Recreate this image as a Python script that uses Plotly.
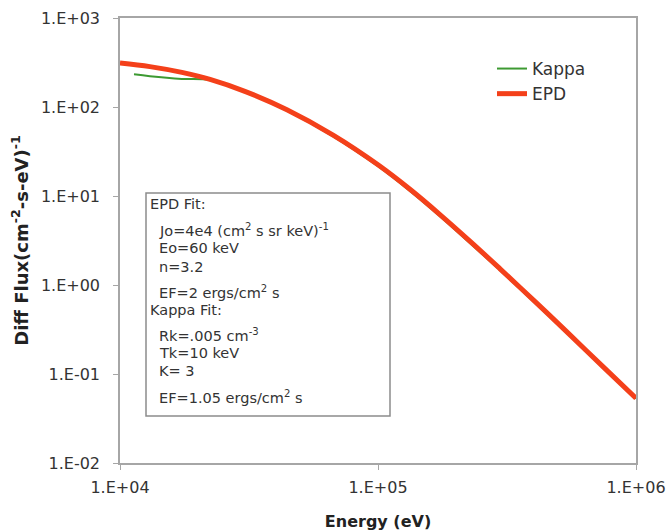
import plotly.graph_objects as go

# ---- data ----
epd_energy = [1.0e4, 1.306e4, 1.738e4, 2.234e4, 3.048e4, 4.436e4, 6.699e4, 1.0e5,
              1.330e5, 1.738e5, 2.333e5, 2.972e5, 4.064e5, 5.358e5, 7.516e5, 1.0e6]
epd_flux = [311.9, 284.4, 244.9, 204.2, 150.0, 93.1, 48.3, 22.4,
            11.9, 6.19, 2.90, 1.52, 0.650, 0.303, 0.118, 0.0533]

kappa_energy = [1.133e4, 1.306e4, 1.738e4, 2.234e4, 3.048e4, 4.436e4, 6.699e4, 1.0e5,
                1.330e5, 1.738e5, 2.333e5, 2.972e5, 4.064e5, 5.358e5, 7.516e5, 1.0e6]
kappa_flux = [232.8, 222.0, 207.0, 200.0, 147.5, 90.8, 46.8, 21.6,
              11.4, 5.92, 2.76, 1.46, 0.628, 0.294, 0.116, 0.0530]

x_tickvals = [1e4, 1e5, 1e6]
x_ticktext = ["1.E+04", "1.E+05", "1.E+06"]
y_tickvals = [1e-2, 1e-1, 1e0, 1e1, 1e2, 1e3]
y_ticktext = ["1.E-02", "1.E-01", "1.E+00", "1.E+01", "1.E+02", "1.E+03"]

box_lines = [
    ("EPD Fit:", 0),
    ("Jo=4e4 (cm<sup>2</sup> s sr keV)<sup>-1</sup>", 1),
    ("Eo=60 keV", 1),
    ("n=3.2", 1),
    ("EF=2 ergs/cm<sup>2</sup> s", 1),
    ("Kappa Fit:", 0),
    ("Rk=.005 cm<sup>-3</sup>", 1),
    ("Tk=10 keV", 1),
    ("K= 3", 1),
    ("EF=1.05 ergs/cm<sup>2</sup> s", 1),
]
box_line_y = [204, 230, 248, 267, 292, 310, 335, 353, 371, 397]

FONT = "DejaVu Sans, Verdana, sans-serif"
W, H = 668, 531
ML, MR, MT, MB = 120, 32, 18, 68
PW, PH = W - ML - MR, H - MT - MB

def px(x):
    return (x - ML) / PW

def py(y):
    return (H - MB - y) / PH

fig = go.Figure()
fig.add_trace(go.Scatter(x=kappa_energy, y=kappa_flux, mode="lines", name="Kappa",
                         line=dict(color="#3d9a32", width=2, shape="spline")))
fig.add_trace(go.Scatter(x=epd_energy, y=epd_flux, mode="lines", name="EPD",
                         line=dict(color="#f4401a", width=5, shape="spline")))

axis_common = dict(showgrid=False, zeroline=False, showline=True, linecolor="#a6a6a6",
                   linewidth=1.5, mirror=True, ticks="outside", ticklen=5,
                   tickcolor="#a6a6a6", automargin=False,
                   tickfont=dict(family=FONT, size=16, color="#333"))

fig.update_xaxes(type="log", range=[4, 6], tickvals=x_tickvals, ticktext=x_ticktext,
                 ticklabelstandoff=4,
                 title=dict(text="<b>Energy (eV)</b>", font=dict(family=FONT, size=16, color="#222"),
                            standoff=28),
                 **axis_common)
fig.update_yaxes(type="log", range=[-2, 3], tickvals=y_tickvals, ticktext=y_ticktext,
                 ticklabelstandoff=10,
                 title=dict(text="<b>Diff Flux(cm<sup>-2</sup>-s-eV)<sup>-1</sup></b>",
                            font=dict(family=FONT, size=18, color="#222"), standoff=8),
                 **axis_common)

fig.add_shape(type="rect", xref="paper", yref="paper",
              x0=px(146), x1=px(390), y0=py(416), y1=py(193),
              line=dict(color="#8c8c8c", width=1.5), fillcolor="white", layer="above")

for (txt, indent), yy in zip(box_lines, box_line_y):
    fig.add_annotation(xref="paper", yref="paper", x=px(148 if indent == 0 else 157), y=py(yy),
                       text=txt, showarrow=False, xanchor="left", yanchor="middle",
                       font=dict(family=FONT, size=14.5, color="#333"))

fig.update_layout(
    width=W, height=H,
    margin=dict(l=ML, r=MR, t=MT, b=MB),
    paper_bgcolor="white", plot_bgcolor="white",
    showlegend=True,
    legend=dict(x=px(492), y=py(51), xanchor="left", yanchor="top",
                bgcolor="rgba(0,0,0,0)", font=dict(family=FONT, size=17, color="#333"),
                tracegroupgap=0),
)

fig.write_html("out.html", config={"displayModeBar": False},
               post_script="document.body.style.margin='0';")
